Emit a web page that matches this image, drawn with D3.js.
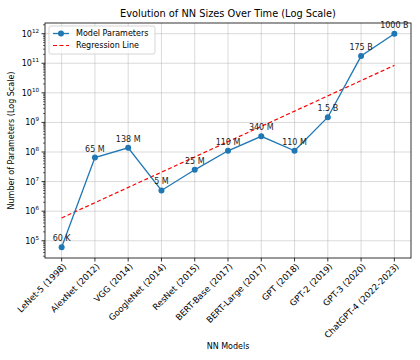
<!DOCTYPE html>
<html><head><meta charset="utf-8">
<script src="https://cdn.jsdelivr.net/npm/d3@7"></script>
<style>body{margin:0;background:#fff}svg{display:block;font-family:"DejaVu Sans",sans-serif}</style>
</head><body><svg id="c" width="420" height="360"></svg>
<script>
const models = ["LeNet-5 (1998)","AlexNet (2012)","VGG (2014)","GoogleNet (2014)","ResNet (2015)","BERT-Base (2017)","BERT-Large (2017)","GPT (2018)","GPT-2 (2019)","GPT-3 (2020)","ChatGPT-4 (2022-2023)"];
const params = [6e4,6.5e7,1.38e8,5e6,2.5e7,1.1e8,3.4e8,1.1e8,1.5e9,1.75e11,1e12];
const valueLabels = ["60 K","65 M","138 M","5 M","25 M","110 M","340 M","110 M","1.5 B","175 B","1000 B"];
const regressionEnds = [5.9e5, 8.5e10];
const yTickExps = [5,6,7,8,9,10,11,12];

const svg = d3.select("#c");
const L=45,R=411,T=23,B=258;
const FS=8;
const x = d3.scaleLinear().domain([-0.5, models.length-0.5]).range([L,R]);
const lmin = Math.log10(d3.min(params)), lmax = Math.log10(d3.max(params)), pad=(lmax-lmin)*0.05;
const y = d3.scaleLog().domain([Math.pow(10,lmin-pad), Math.pow(10,lmax+pad)]).range([B,T]);

// grid
const g = svg.append("g");
g.selectAll(".gx").data(models).join("line").attr("x1",(d,i)=>x(i)).attr("x2",(d,i)=>x(i)).attr("y1",T).attr("y2",B).attr("stroke","#b0b0b0").attr("stroke-opacity",0.6).attr("stroke-width",0.8);
g.selectAll(".gy").data(yTickExps).join("line").attr("x1",L).attr("x2",R).attr("y1",d=>y(Math.pow(10,d))).attr("y2",d=>y(Math.pow(10,d))).attr("stroke","#b0b0b0").attr("stroke-opacity",0.6).attr("stroke-width",0.8);

// minor ticks
const minors=[];
const [d0,d1]=y.domain();
for(let e=4;e<=12;e++){for(let m=2;m<=9;m++){const v=m*Math.pow(10,e); if(v>=d0&&v<=d1) minors.push(v);}}
svg.selectAll(".mt").data(minors).join("line").attr("x1",L).attr("x2",L-2).attr("y1",d=>y(d)).attr("y2",d=>y(d)).attr("stroke","#000").attr("stroke-width",0.6);
// major y ticks
svg.selectAll(".yt").data(yTickExps).join("line").attr("x1",L).attr("x2",L-3.5).attr("y1",d=>y(Math.pow(10,d))).attr("y2",d=>y(Math.pow(10,d))).attr("stroke","#000").attr("stroke-width",0.8);
const yl = svg.selectAll(".yl").data(yTickExps).join("text").attr("x",L-6).attr("y",d=>y(Math.pow(10,d))+3).attr("text-anchor","end").attr("font-size",FS).attr("fill","#000");
yl.append("tspan").text("10");
yl.append("tspan").attr("dy",-4).attr("font-size",5.6).text(d=>d);
// x ticks
svg.selectAll(".xt").data(models).join("line").attr("x1",(d,i)=>x(i)).attr("x2",(d,i)=>x(i)).attr("y1",B).attr("y2",B+3.5).attr("stroke","#000").attr("stroke-width",0.8);
svg.selectAll(".xl").data(models).join("text").attr("transform",(d,i)=>`translate(${x(i)+3},${B+7}) rotate(-45)`).attr("text-anchor","end").attr("font-size",8.6).attr("dy","0.35em").attr("fill","#000").text(d=>d);

// regression
svg.append("line").attr("x1",x(0)).attr("x2",x(models.length-1)).attr("y1",y(regressionEnds[0])).attr("y2",y(regressionEnds[1])).attr("stroke","red").attr("stroke-width",1.2).attr("stroke-dasharray","4,2.5");

// data line
svg.append("path").datum(params).attr("d",d3.line().x((d,i)=>x(i)).y(d=>y(d))).attr("fill","none").attr("stroke","#1f77b4").attr("stroke-width",1.3);
svg.selectAll(".pt").data(params).join("circle").attr("cx",(d,i)=>x(i)).attr("cy",d=>y(d)).attr("r",3).attr("fill","#1f77b4");
svg.selectAll(".vl").data(params).join("text").attr("x",(d,i)=>x(i)).attr("y",d=>y(d)-6).attr("text-anchor","middle").attr("font-size",FS).attr("fill","#222").text((d,i)=>valueLabels[i]);

// frame
svg.append("rect").attr("x",L).attr("y",T).attr("width",R-L).attr("height",B-T).attr("fill","none").attr("stroke","#000").attr("stroke-width",0.8);

// title & labels
svg.append("text").attr("x",(L+R)/2).attr("y",17).attr("text-anchor","middle").attr("font-size",9.8).text("Evolution of NN Sizes Over Time (Log Scale)");
svg.append("text").attr("x",(L+R)/2).attr("y",349).attr("text-anchor","middle").attr("font-size",FS).text("NN Models");
svg.append("text").attr("transform",`translate(14,${(T+B)/2}) rotate(-90)`).attr("text-anchor","middle").attr("font-size",FS).text("Number of Parameters (Log Scale)");

// legend
const lg = svg.append("g").attr("transform","translate(49,26)");
lg.append("rect").attr("width",106).attr("height",28).attr("rx",2).attr("fill","#fff").attr("fill-opacity",0.8).attr("stroke","#ccc").attr("stroke-width",0.8);
lg.append("line").attr("x1",4).attr("x2",20).attr("y1",7.5).attr("y2",7.5).attr("stroke","#1f77b4").attr("stroke-width",1.3);
lg.append("circle").attr("cx",12).attr("cy",7.5).attr("r",3).attr("fill","#1f77b4");
lg.append("text").attr("x",27).attr("y",10.3).attr("font-size",FS).text("Model Parameters");
lg.append("line").attr("x1",4).attr("x2",20).attr("y1",19.5).attr("y2",19.5).attr("stroke","red").attr("stroke-width",1.2).attr("stroke-dasharray","4,2.5");
lg.append("text").attr("x",27).attr("y",22.3).attr("font-size",FS).text("Regression Line");
</script></body></html>
